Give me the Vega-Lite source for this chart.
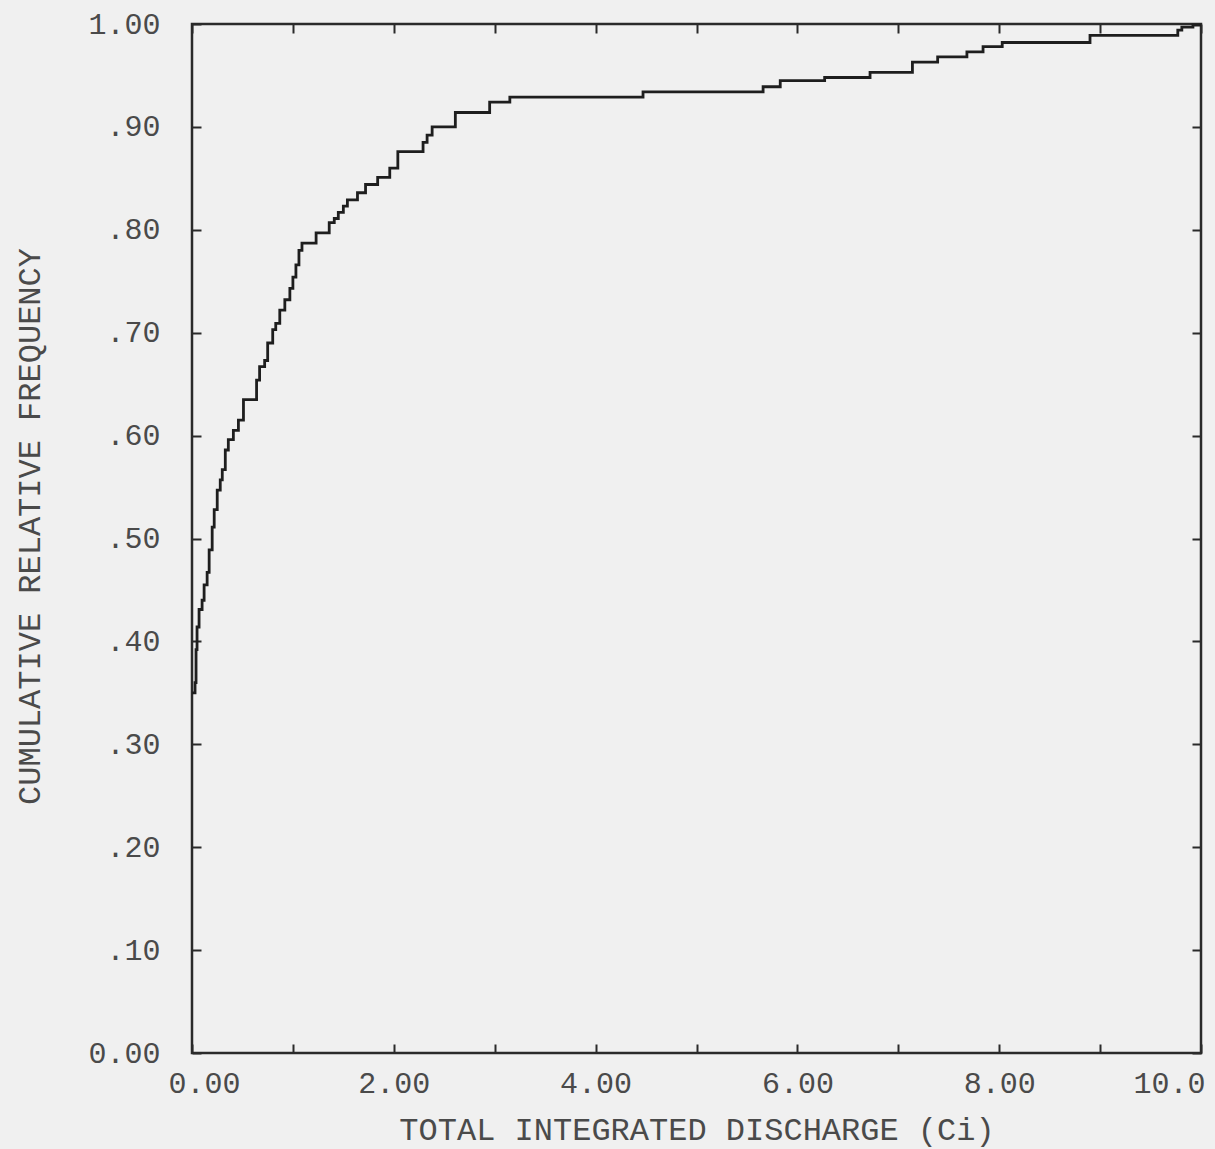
{
  "$schema": "https://vega.github.io/schema/vega-lite/v6.json",
  "autosize": "none",
  "width": 1009,
  "height": 1029,
  "padding": {"left": 192, "top": 24, "right": 14, "bottom": 96},
  "background": "#f0f0f0",
  "config": {
    "view": {"stroke": "#2a2a2a", "strokeWidth": 2.5},
    "axis": {
      "labelFont": "Liberation Mono",
      "titleFont": "Liberation Mono",
      "labelFontSize": 30,
      "titleFontSize": 32,
      "labelColor": "#4a4a4a",
      "titleColor": "#4a4a4a",
      "titleFontWeight": "normal",
      "domain": false,
      "grid": false,
      "labelFlush": false,
      "tickColor": "#2a2a2a",
      "tickWidth": 2,
      "tickSize": -9
    }
  },
  "data": {
    "values": [
      {"x": 0, "y": 0.35},
      {"x": 0.03, "y": 0.36},
      {"x": 0.04, "y": 0.392},
      {"x": 0.05, "y": 0.414},
      {"x": 0.07, "y": 0.431},
      {"x": 0.10, "y": 0.44},
      {"x": 0.12, "y": 0.455},
      {"x": 0.15, "y": 0.467},
      {"x": 0.17, "y": 0.489},
      {"x": 0.20, "y": 0.511},
      {"x": 0.22, "y": 0.528},
      {"x": 0.25, "y": 0.547},
      {"x": 0.28, "y": 0.557},
      {"x": 0.30, "y": 0.567},
      {"x": 0.33, "y": 0.586},
      {"x": 0.36, "y": 0.596},
      {"x": 0.41, "y": 0.605},
      {"x": 0.46, "y": 0.615},
      {"x": 0.51, "y": 0.635},
      {"x": 0.64, "y": 0.654},
      {"x": 0.67, "y": 0.667},
      {"x": 0.72, "y": 0.673},
      {"x": 0.75, "y": 0.69},
      {"x": 0.80, "y": 0.703},
      {"x": 0.83, "y": 0.709},
      {"x": 0.87, "y": 0.722},
      {"x": 0.92, "y": 0.732},
      {"x": 0.97, "y": 0.743},
      {"x": 1.00, "y": 0.754},
      {"x": 1.03, "y": 0.766},
      {"x": 1.06, "y": 0.78},
      {"x": 1.09, "y": 0.787},
      {"x": 1.23, "y": 0.797},
      {"x": 1.36, "y": 0.807},
      {"x": 1.41, "y": 0.811},
      {"x": 1.45, "y": 0.817},
      {"x": 1.50, "y": 0.823},
      {"x": 1.54, "y": 0.829},
      {"x": 1.64, "y": 0.836},
      {"x": 1.72, "y": 0.844},
      {"x": 1.84, "y": 0.851},
      {"x": 1.96, "y": 0.86},
      {"x": 2.04, "y": 0.876},
      {"x": 2.29, "y": 0.885},
      {"x": 2.33, "y": 0.892},
      {"x": 2.38, "y": 0.90},
      {"x": 2.61, "y": 0.914},
      {"x": 2.95, "y": 0.924},
      {"x": 3.15, "y": 0.929},
      {"x": 4.47, "y": 0.934},
      {"x": 5.66, "y": 0.939},
      {"x": 5.83, "y": 0.945},
      {"x": 6.27, "y": 0.948},
      {"x": 6.72, "y": 0.953},
      {"x": 7.14, "y": 0.963},
      {"x": 7.39, "y": 0.968},
      {"x": 7.68, "y": 0.973},
      {"x": 7.84, "y": 0.978},
      {"x": 8.03, "y": 0.982},
      {"x": 8.90, "y": 0.989},
      {"x": 9.77, "y": 0.994},
      {"x": 9.81, "y": 0.997},
      {"x": 9.92, "y": 0.999},
      {"x": 10.0, "y": 0.999}
    ]
  },
  "layer": [
    {
      "mark": {"type": "line", "interpolate": "step-after", "color": "#1e1e1e", "strokeWidth": 2.8},
      "encoding": {
        "x": {
          "field": "x", "type": "quantitative",
          "scale": {"domain": [0, 10], "nice": false, "zero": false},
          "axis": {
            "orient": "bottom",
            "values": [0, 1, 2, 3, 4, 5, 6, 7, 8, 9, 10],
            "labelExpr": "datum.value % 2 != 0 ? '' : (datum.value == 10 ? '10.0' : format(datum.value, '.2f'))",
            "labelPadding": 39,
            "labelBaseline": "middle",
            "labelOffset": {"condition": [{"test": "datum.value == 0", "value": 12}, {"test": "datum.value == 10", "value": -32}], "value": 0},
            "title": "TOTAL INTEGRATED DISCHARGE (Ci)",
            "titleY": 76,
            "titleBaseline": "middle"
          }
        },
        "y": {
          "field": "y", "type": "quantitative",
          "scale": {"domain": [0, 1], "nice": false},
          "axis": {
            "orient": "left",
            "values": [0, 0.1, 0.2, 0.3, 0.4, 0.5, 0.6, 0.7, 0.8, 0.9, 1],
            "labelExpr": "datum.value == 0 ? '0.00' : replace(format(datum.value, '.2f'), '0.', '.')",
            "labelPadding": 41,
            "title": "CUMULATIVE RELATIVE FREQUENCY",
            "titleX": -163,
            "titleY": 502,
            "titleAngle": -90,
            "titleBaseline": "middle",
            "titleAlign": "center"
          }
        }
      }
    },
    {
      "mark": {"type": "line", "interpolate": "step-after", "strokeOpacity": 0},
      "encoding": {
        "x": {
          "field": "x", "type": "quantitative",
          "scale": {"domain": [0, 10], "nice": false, "zero": false},
          "axis": {"orient": "top", "values": [0, 1, 2, 3, 4, 5, 6, 7, 8, 9, 10], "labels": false, "title": null}
        },
        "y": {
          "field": "y", "type": "quantitative",
          "scale": {"domain": [0, 1], "nice": false},
          "axis": {"orient": "right", "values": [0, 0.1, 0.2, 0.3, 0.4, 0.5, 0.6, 0.7, 0.8, 0.9, 1], "labels": false, "title": null}
        }
      }
    }
  ],
  "resolve": {"axis": {"x": "independent", "y": "independent"}}
}
